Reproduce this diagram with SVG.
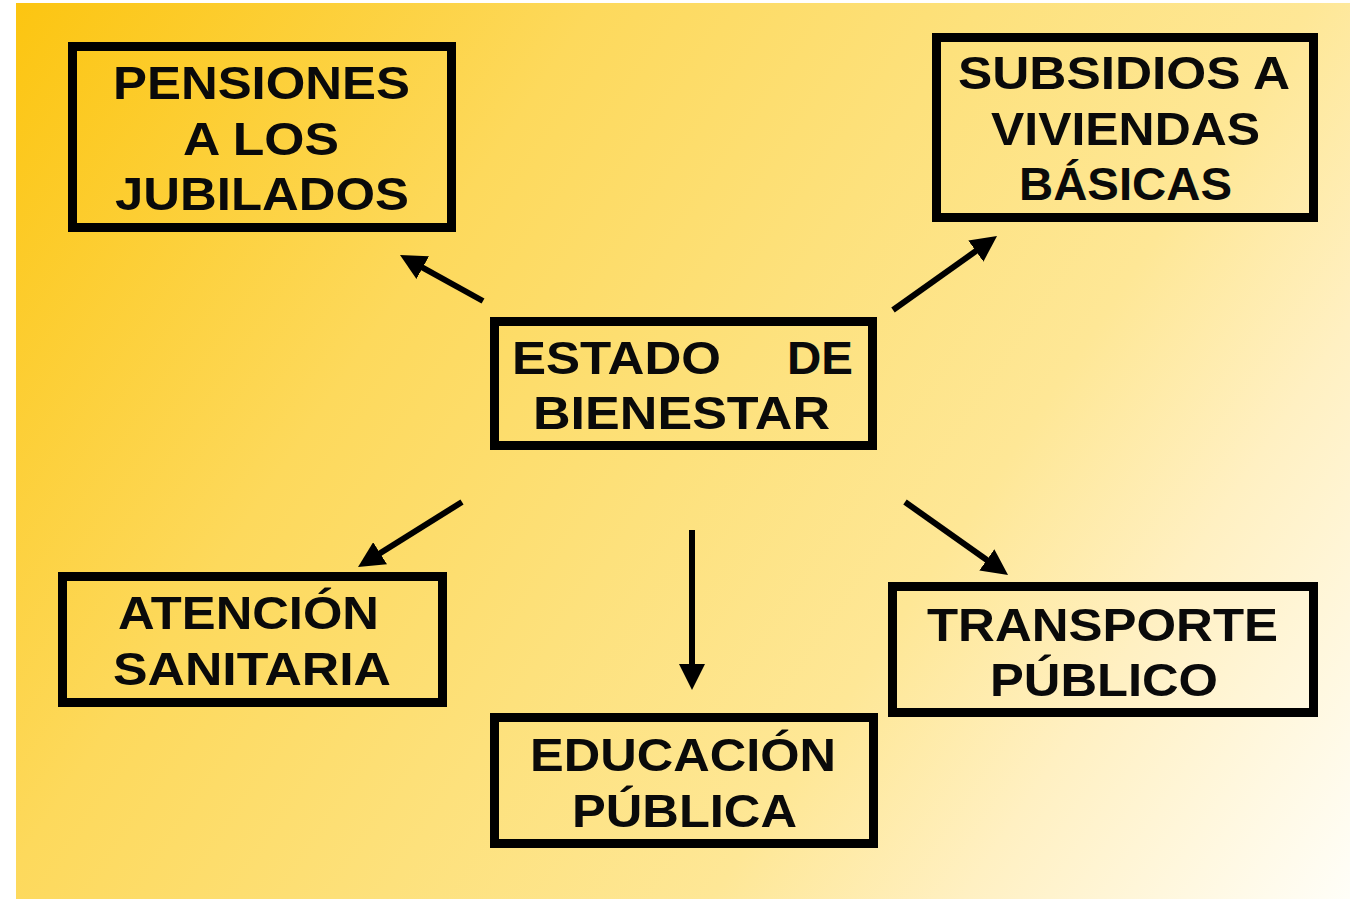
<svg xmlns="http://www.w3.org/2000/svg" width="1358" height="899" viewBox="0 0 1358 899">
<defs>
<linearGradient id="bg" gradientUnits="userSpaceOnUse" x1="16" y1="3" x2="1350" y2="899">
<stop offset="0" stop-color="#FCC511"/>
<stop offset="0.3" stop-color="#FDD95C"/>
<stop offset="0.5" stop-color="#FDE17C"/>
<stop offset="0.67" stop-color="#FEE796"/>
<stop offset="0.8" stop-color="#FFF0C2"/>
<stop offset="1" stop-color="#FFFEF8"/>
</linearGradient>
<marker id="ah" markerUnits="userSpaceOnUse" markerWidth="30" markerHeight="26" refX="10" refY="13" orient="auto">
<path d="M0,0 L26,13 L0,26 z" fill="#000"/>
</marker>
<style>
.box{fill:none;stroke:#000;stroke-width:9}
.t{font-family:"Liberation Sans",Arial,sans-serif;font-weight:bold;font-size:47px;fill:#0a0a0a}
.c{fill:none;stroke:#000;stroke-width:6;marker-end:url(#ah)}
</style>
</defs>
<rect x="0" y="0" width="1358" height="899" fill="#fff"/>
<rect x="16" y="3" width="1334" height="896" fill="url(#bg)"/>
<g id="connectors">
<line class="c" x1="483" y1="301" x2="414" y2="262.8"/>
<line class="c" x1="893" y1="310" x2="984" y2="245.3"/>
<line class="c" x1="462" y1="502" x2="371.6" y2="558.5"/>
<line class="c" x1="692" y1="530" x2="692" y2="674"/>
<line class="c" x1="905" y1="502" x2="995" y2="565.7"/>
</g>
<g id="pensiones">
<rect class="box" x="72.5" y="46.5" width="379" height="181"/>
<text class="t" x="113" y="99" textLength="297" lengthAdjust="spacingAndGlyphs">PENSIONES</text>
<text class="t" x="183" y="155" textLength="156" lengthAdjust="spacingAndGlyphs">A LOS</text>
<text class="t" x="115" y="210" textLength="294" lengthAdjust="spacingAndGlyphs">JUBILADOS</text>
</g>
<g id="subsidios">
<rect class="box" x="936.5" y="37.5" width="377" height="180"/>
<text class="t" x="958" y="89" textLength="332" lengthAdjust="spacingAndGlyphs">SUBSIDIOS A</text>
<text class="t" x="991" y="145" textLength="269" lengthAdjust="spacingAndGlyphs">VIVIENDAS</text>
<text class="t" x="1019" y="200" textLength="213" lengthAdjust="spacingAndGlyphs">BÁSICAS</text>
</g>
<g id="estado">
<rect class="box" x="494.5" y="321.5" width="378" height="124"/>
<text class="t" x="512" y="374" textLength="209" lengthAdjust="spacingAndGlyphs">ESTADO</text>
<text class="t" x="787" y="374" textLength="66" lengthAdjust="spacingAndGlyphs">DE</text>
<text class="t" x="533" y="429" textLength="297" lengthAdjust="spacingAndGlyphs">BIENESTAR</text>
</g>
<g id="atencion">
<rect class="box" x="62.5" y="576.5" width="380" height="126"/>
<text class="t" x="118" y="629" textLength="261" lengthAdjust="spacingAndGlyphs">ATENCIÓN</text>
<text class="t" x="113" y="685" textLength="278" lengthAdjust="spacingAndGlyphs">SANITARIA</text>
</g>
<g id="educacion">
<rect class="box" x="494.5" y="717.5" width="379" height="126"/>
<text class="t" x="530" y="771" textLength="306" lengthAdjust="spacingAndGlyphs">EDUCACIÓN</text>
<text class="t" x="572" y="827" textLength="225" lengthAdjust="spacingAndGlyphs">PÚBLICA</text>
</g>
<g id="transporte">
<rect class="box" x="892.5" y="586.5" width="421" height="126"/>
<text class="t" x="927" y="641" textLength="351" lengthAdjust="spacingAndGlyphs">TRANSPORTE</text>
<text class="t" x="990" y="696" textLength="228" lengthAdjust="spacingAndGlyphs">PÚBLICO</text>
</g>
</svg>
